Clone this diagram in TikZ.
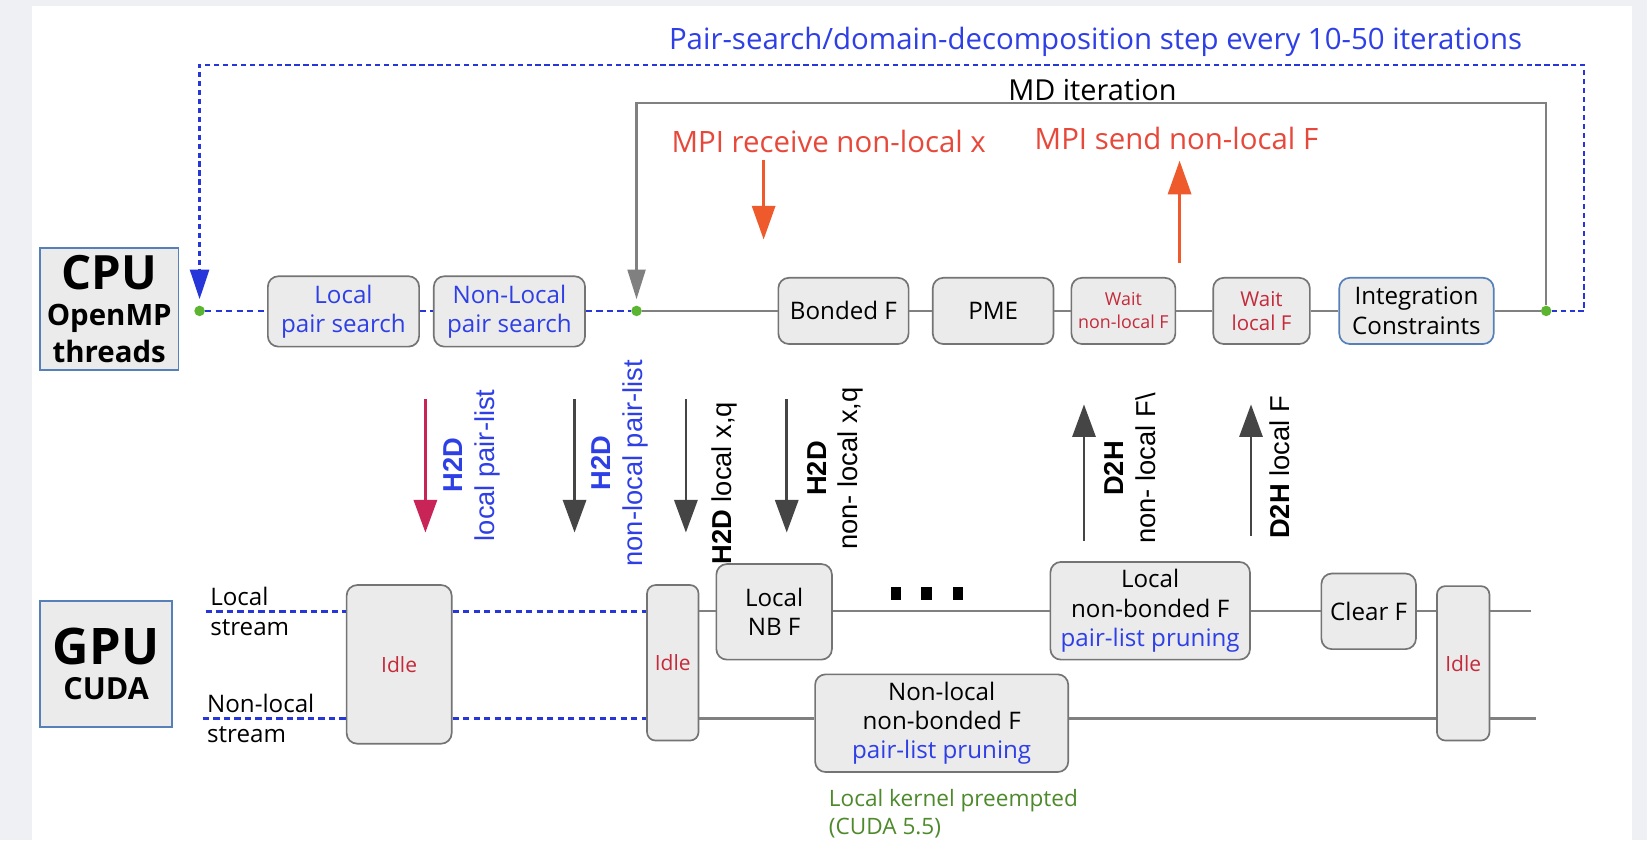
\documentclass[tikz,border=0pt]{standalone}
\usepackage{fontspec}
\setmainfont{Open Sans}
\newfontfamily\arialf{Liberation Sans}
\usetikzlibrary{arrows.meta,calc}
\definecolor{bgray}{HTML}{EEF0F3}
\definecolor{tblue}{HTML}{2E3FE6}
\definecolor{dblue}{HTML}{2636D8}
\definecolor{gdot}{HTML}{5CB531}
\definecolor{lgray}{HTML}{808080}
\definecolor{bfill}{HTML}{EBEBEB}
\definecolor{bdraw}{HTML}{747474}
\definecolor{wred}{HTML}{C42A3A}
\definecolor{mred}{HTML}{E8483A}
\definecolor{marrow}{HTML}{EE5A2C}
\definecolor{crim}{HTML}{C82458}
\definecolor{darr}{HTML}{454545}
\definecolor{ggreen}{HTML}{4E8A2C}
\definecolor{cpub}{HTML}{5580B8}
\newcommand\fsz[2]{\fontsize{#1}{#2}\selectfont}
\begin{document}
\begin{tikzpicture}[x=1pt,y=-1pt,
  box/.style={draw=bdraw, fill=bfill, line width=1.6pt, rounded corners=10pt, align=center, inner sep=1pt, font=\fsz{23}{28}},
  hbox/.style={draw=cpub, fill=bfill, line width=1.6pt, align=center, inner sep=0pt},
  gdotn/.style={circle, fill=gdot, inner sep=0pt, minimum size=10pt},
  gline/.style={draw=lgray, line width=2.2pt},
  bdash/.style={draw=dblue, line width=2.6pt, dash pattern=on 6pt off 4pt},
  tdash/.style={draw=dblue, line width=2.6pt, dash pattern=on 5pt off 3.5pt},
  darrow/.style={draw=darr, line width=2.6pt, -{Triangle[length=31pt,width=22pt]}},
  carrow/.style={draw=crim, line width=2.6pt, -{Triangle[length=31pt,width=22pt]}},
  marrowst/.style={draw=marrow, line width=2.6pt, -{Triangle[length=32pt,width=22pt]}},
  vlab/.style={rotate=90, align=center, font=\arialf\fsz{26}{30}, inner sep=0pt},
  idle/.style={box, font=\fsz{20}{24}, text=wred},
  txt/.style={inner sep=0pt, align=left},
]
\useasboundingbox (0,0) rectangle (1568,800);
\fill[bgray] (0,0) rectangle (1568,800);
\fill[white] (30,6) rectangle (1554,800);

% ---- titles
\node[txt, text=tblue, font=\fsz{28}{32}] (ttl) at (1043,40) {Pair-search/domain-decomposition step every 10-50 iterations};
\node[txt, font=\fsz{27.5}{32}] (md) at (1040,86) {MD iteration};
\node[txt, text=mred, font=\fsz{28}{32}] (mpir) at (789,135) {MPI receive non-local x};
\node[txt, text=mred, font=\fsz{28}{32}] (mpis) at (1120,132) {MPI send non-local F};

% ---- CPU row
\node[hbox, font=\bfseries\fsz{28}{35}, minimum width=132pt, minimum height=116pt] (cpu) at (104,294)
  {{\fsz{45}{35}CPU}\\OpenMP\\threads};
\node[gdotn] (d1) at (190,296) {};
\node[gdotn] (d2) at (606,296) {};
\node[gdotn] (d3) at (1472,296) {};
\node[box, text=tblue, minimum width=144pt, minimum height=67pt] (lps) at (327,296.5) {Local\\pair search};
\node[box, text=tblue, minimum width=144pt, minimum height=67pt] (nlps) at (485,296.5) {Non-Local\\pair search};
\node[box, minimum width=124pt, minimum height=63pt] (bf) at (803,296) {Bonded F};
\node[box, minimum width=115pt, minimum height=63pt] (pme) at (945.5,296) {PME};
\node[box, text=wred, font=\fsz{17}{22}, minimum width=99pt, minimum height=63pt] (wnl) at (1069.5,296) {Wait\\non-local F};
\node[box, text=wred, font=\fsz{19.5}{23}, minimum width=92pt, minimum height=63pt] (wl) at (1201,296) {Wait\\local F};
\node[box, draw=cpub, minimum width=147pt, minimum height=63pt] (ic) at (1348.5,296) {Integration\\Constraints};

\draw[bdash] (d1) -- (lps.west |- d1);
\draw[bdash] (lps.east |- d1) -- (nlps.west |- d1);
\draw[bdash] (nlps.east |- d1) -- (d2);
\draw[gline] (d2) -- (bf);
\draw[gline] (bf) -- (pme);
\draw[gline] (pme) -- (wnl);
\draw[gline] (wnl) -- (wl);
\draw[gline] (wl) -- (ic);
\draw[gline] (ic) -- (d3);

% loops
\coordinate (blc) at (1508,62);
\coordinate (mdc) at (1472,98);
\draw[tdash, -{Triangle[length=28pt,width=18pt]}, shorten >=6pt] (d3) -| (blc) -| (d1);
\draw[gline, -{Triangle[length=28pt,width=17pt]}, shorten >=6pt] (d3) -- (mdc) -| (d2);

% MPI arrows
\coordinate (mre) at (727,228);
\coordinate (mss) at (1123,250);
\draw[marrowst] (mpir.south -| mre) ++(0,6) -- (mre);
\draw[marrowst] (mss) -- ($(mpis.south -| mss)+(0,10)$);

% ---- GPU row
\node[hbox, font=\bfseries\fsz{29}{34}, minimum width=126pt, minimum height=120pt] (gpu) at (101,632)
  {{\fsz{48}{34}GPU}\\CUDA};
\node[txt, font=\fsz{23}{29}] (lsl) at (200,582) [anchor=west] {Local\\stream};
\node[txt, font=\fsz{23}{29}] (nsl) at (197,684) [anchor=west] {Non-local\\stream};
\coordinate (ls0) at (196,582);
\coordinate (ls1) at (1458,582);
\coordinate (ns0) at (193,684);
\coordinate (ns1) at (1462,684);
\node[idle, minimum width=100pt, minimum height=151pt] (i1) at (380,632.5) {Idle};
\node[idle, rounded corners=8pt, minimum width=49pt, minimum height=148pt] (i2) at (640.5,631) {Idle};
\node[idle, rounded corners=8pt, minimum width=50pt, minimum height=147pt] (i3) at (1393,631.5) {Idle};
\node[box, minimum width=110pt, minimum height=91pt] (lnb) at (737,582.5) {Local\\NB F};
\node[box, minimum width=190pt, minimum height=93pt] (lnbf) at (1095,581.5) {Local\\non-bonded F\\\textcolor{tblue}{pair-list pruning}};
\node[box, minimum width=90pt, minimum height=72pt] (clr) at (1303,582) {Clear F};
\node[box, minimum width=241pt, minimum height=93pt] (nlnbf) at (896.5,688.5) {Non-local\\non-bonded F\\\textcolor{tblue}{pair-list pruning}};

\draw[bdash] (ls0) -- (ls0 -| i1.west);
\draw[bdash] (ls0 -| i1.east) -- (ls0 -| i2.west);
\draw[gline] (ls0 -| i2.east) -- (ls0 -| lnb.west);
\draw[gline] (ls0 -| lnb.east) -- (ls0 -| lnbf.west);
\draw[gline] (ls0 -| lnbf.east) -- (ls0 -| clr.west);
\draw[gline] (ls0 -| clr.east) -- (ls0 -| i3.west);
\draw[gline] (ls0 -| i3.east) -- (ls1);
\draw[bdash] (ns0) -- (ns0 -| i1.west);
\draw[bdash] (ns0 -| i1.east) -- (ns0 -| i2.west);
\draw[gline] (ns0 -| i2.east) -- (ns0 -| nlnbf.west);
\draw[gline] (ns0 -| nlnbf.east) -- (ns0 -| i3.west);
\draw[gline] (ns0 -| i3.east) -- (ns1);

% dots
\foreach \xx/\nm in {853/q1,882/q2,912/q3}{
  \node[fill=black, inner sep=0pt, minimum width=10pt, minimum height=12pt] (\nm) at (\xx,565) {};
}

\node[txt, text=ggreen, font=\fsz{21.5}{27}, anchor=north west] (grn) at (789,751) {Local kernel preempted\\(CUDA 5.5)};

% ---- vertical transfers
\coordinate (a1t) at (405,380); \coordinate (a1b) at (405,507);
\coordinate (a2t) at (547,380); \coordinate (a2b) at (547,507);
\coordinate (a3t) at (653,380); \coordinate (a3b) at (653,507);
\coordinate (a4t) at (749,380); \coordinate (a4b) at (749,507);
\coordinate (a5t) at (1032,385); \coordinate (a5b) at (1032,515);
\coordinate (a6t) at (1191,385); \coordinate (a6b) at (1191,510);
\draw[carrow] (a1t) -- (a1b);
\draw[darrow] (a2t) -- (a2b);
\draw[darrow] (a3t) -- (a3b);
\draw[darrow] (a4t) -- (a4b);
\draw[darrow] (a5b) -- (a5t);
\draw[darrow] (a6b) -- (a6t);

\node[vlab, text=tblue] (l1) at (449,443) {\bfseries H2D\\local pair-list};
\node[vlab, text=tblue] (l2) at (590,441) {\bfseries H2D\\non-local pair-list};
\node[vlab] (l3) at (690,460) {\textbf{H2D} local x,q};
\node[vlab] (l4) at (795,446) {\bfseries H2D\\non- local x,q};
\node[vlab] (l5) at (1076,446) {\bfseries D2H\\non- local F\textbackslash};
\node[vlab] (l6) at (1218,445) {\textbf{D2H} local F};
\end{tikzpicture}
\end{document}
